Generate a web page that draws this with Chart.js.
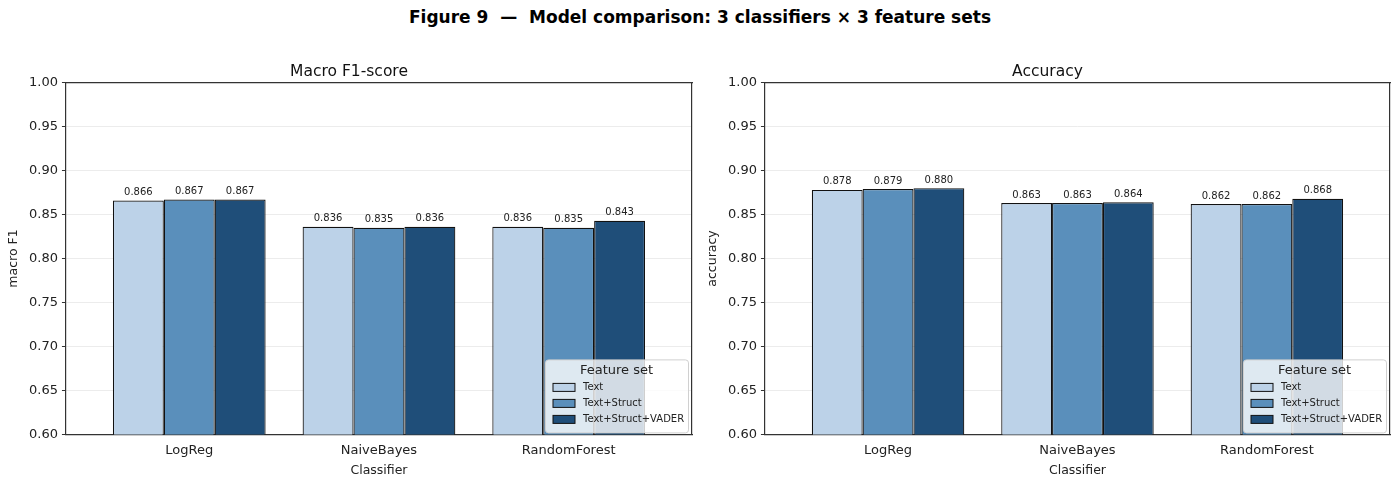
<!DOCTYPE html>
<html>
<head>
<meta charset="utf-8">
<script src="https://cdn.jsdelivr.net/npm/chart.js@4/dist/chart.umd.min.js"></script>
<style>
  html, body { margin: 0; padding: 0; background: #fff; }
  #wrap { position: relative; width: 1400px; height: 484px; overflow: hidden; }
  #fig-title {
    position: absolute; left: 0; top: 7px; width: 1400px; text-align: center;
    font-family: 'DejaVu Sans', sans-serif; font-weight: bold; font-size: 17px;
    color: #000; white-space: pre;
  }
  .panel { position: absolute; top: 0; width: 700px; height: 484px; }
</style>
</head>
<body>
<div id="wrap">
  <div id="fig-title">Figure 9  —  Model comparison: 3 classifiers × 3 feature sets</div>
  <div class="panel" style="left:0"><canvas id="chart-f1"></canvas></div>
  <div class="panel" style="left:700px"><canvas id="chart-acc"></canvas></div>
</div>
<script>
// --- data ---
const classifiers = ['LogReg', 'NaiveBayes', 'RandomForest'];
const featureSets = ['Text', 'Text+Struct', 'Text+Struct+VADER'];
const f1Text        = [0.866, 0.836, 0.836];
const f1Struct      = [0.867, 0.835, 0.835];
const f1Vader       = [0.867, 0.836, 0.843];
const accText       = [0.878, 0.863, 0.862];
const accStruct     = [0.879, 0.863, 0.862];
const accVader      = [0.880, 0.864, 0.868];
const yTicks        = [0.60, 0.65, 0.70, 0.75, 0.80, 0.85, 0.90, 0.95, 1.00];

const COLORS = ['#bcd2e8', '#5a8fbb', '#1f4e79'];
const FONT = 'DejaVu Sans';

// value labels above each bar
const valueLabels = {
  id: 'valueLabels',
  afterDatasetsDraw(chart) {
    const ctx = chart.ctx;
    ctx.save();
    ctx.font = `10px "${FONT}"`;
    ctx.fillStyle = '#222';
    ctx.textAlign = 'center';
    ctx.textBaseline = 'bottom';
    chart.data.datasets.forEach((ds, di) => {
      chart.getDatasetMeta(di).data.forEach((bar, i) => {
        ctx.fillText(ds.data[i].y.toFixed(3), bar.x, bar.y - 3);
      });
    });
    ctx.restore();
  }
};

// matplotlib-like legend in the lower right corner of the plot
const boxLegend = {
  id: 'boxLegend',
  afterDraw(chart) {
    const ctx = chart.ctx;
    const area = chart.chartArea;
    const w = 143, h = 73;
    const x = area.right - w - 4, y = area.bottom - h - 2;
    ctx.save();
    ctx.fillStyle = 'rgba(255,255,255,0.8)';
    ctx.strokeStyle = '#d0d0d0';
    ctx.lineWidth = 1;
    ctx.beginPath();
    ctx.roundRect(x + 0.5, y + 0.5, w, h, 3);
    ctx.fill();
    ctx.stroke();
    ctx.fillStyle = '#222';
    ctx.font = `13px "${FONT}"`;
    ctx.textAlign = 'center';
    ctx.textBaseline = 'middle';
    ctx.fillText('Feature set', x + w / 2, y + 11);
    ctx.font = `10px "${FONT}"`;
    ctx.textAlign = 'left';
    chart.data.datasets.forEach((ds, i) => {
      const ry = y + 28 + i * 16;
      ctx.fillStyle = ds.backgroundColor;
      ctx.fillRect(x + 8, ry - 4, 22, 8);
      ctx.strokeStyle = '#111';
      ctx.strokeRect(x + 8, ry - 4, 22, 8);
      ctx.fillStyle = '#222';
      ctx.fillText(ds.label, x + 38, ry);
    });
    ctx.restore();
  }
};

function makeChart(id, title, yLabel, series, padLeft, padRight) {
  const datasets = series.map((vals, k) => ({
    label: featureSets[k],
    data: vals.map((v, i) => ({ x: i, y: v })),
    backgroundColor: COLORS[k],
    borderColor: '#111',
    borderWidth: 1.2,
    barPercentage: 1.0,
    categoryPercentage: 0.805
  }));

  return new Chart(document.getElementById(id), {
    type: 'bar',
    data: { datasets },
    options: {
      responsive: true,
      maintainAspectRatio: false,
      animation: false,
      layout: { padding: { left: padLeft, right: padRight, top: 63, bottom: 6 } },
      plugins: {
        legend: { display: false },
        tooltip: { enabled: false },
        title: {
          display: true, text: title, color: '#111',
          font: { family: FONT, size: 15.5, weight: 'normal' },
          padding: { top: 0, bottom: 1 }
        }
      },
      scales: {
        x: {
          type: 'linear',
          offset: false,
          bounds: 'data',
          min: -0.65, max: 2.65,
          afterBuildTicks: (s) => { s.ticks = classifiers.map((_, i) => ({ value: i })); },
          ticks: {
            callback: (v) => classifiers[v],
            color: '#222', font: { family: FONT, size: 13 }, padding: 4, maxRotation: 0
          },
          grid: { display: false, drawTicks: true, tickLength: 4, tickColor: '#333' },
          border: { color: '#333', width: 1.2 },
          title: {
            display: true, text: 'Classifier', color: '#222',
            font: { family: FONT, size: 12.5 }, padding: { top: 1, bottom: 0 }
          }
        },
        y: {
          min: 0.6, max: 1.0,
          afterBuildTicks: (s) => { s.ticks = yTicks.map(v => ({ value: v })); },
          ticks: {
            callback: (v) => v.toFixed(2),
            color: '#222', font: { family: FONT, size: 13 }, padding: 4
          },
          grid: { color: '#ececec', lineWidth: 1, tickLength: 4, tickColor: '#333' },
          border: { color: '#333', width: 1.2 },
          title: {
            display: true, text: yLabel, color: '#222',
            font: { family: FONT, size: 12.5 }, padding: { top: 0, bottom: 4 }
          }
        },
        x2: {
          type: 'linear', position: 'top', display: true,
          ticks: { display: false }, grid: { display: false, drawTicks: false },
          border: { color: '#333', width: 1.2 }
        },
        y2: {
          type: 'linear', position: 'right', display: true,
          ticks: { display: false }, grid: { display: false, drawTicks: false },
          border: { color: '#333', width: 1.2 }
        }
      }
    },
    plugins: [valueLabels, boxLegend]
  });
}

makeChart('chart-f1', 'Macro F1-score', 'macro F1', [f1Text, f1Struct, f1Vader], 6, 8);
makeChart('chart-acc', 'Accuracy', 'accuracy', [accText, accStruct, accVader], 5, 10);
</script>
</body>
</html>
